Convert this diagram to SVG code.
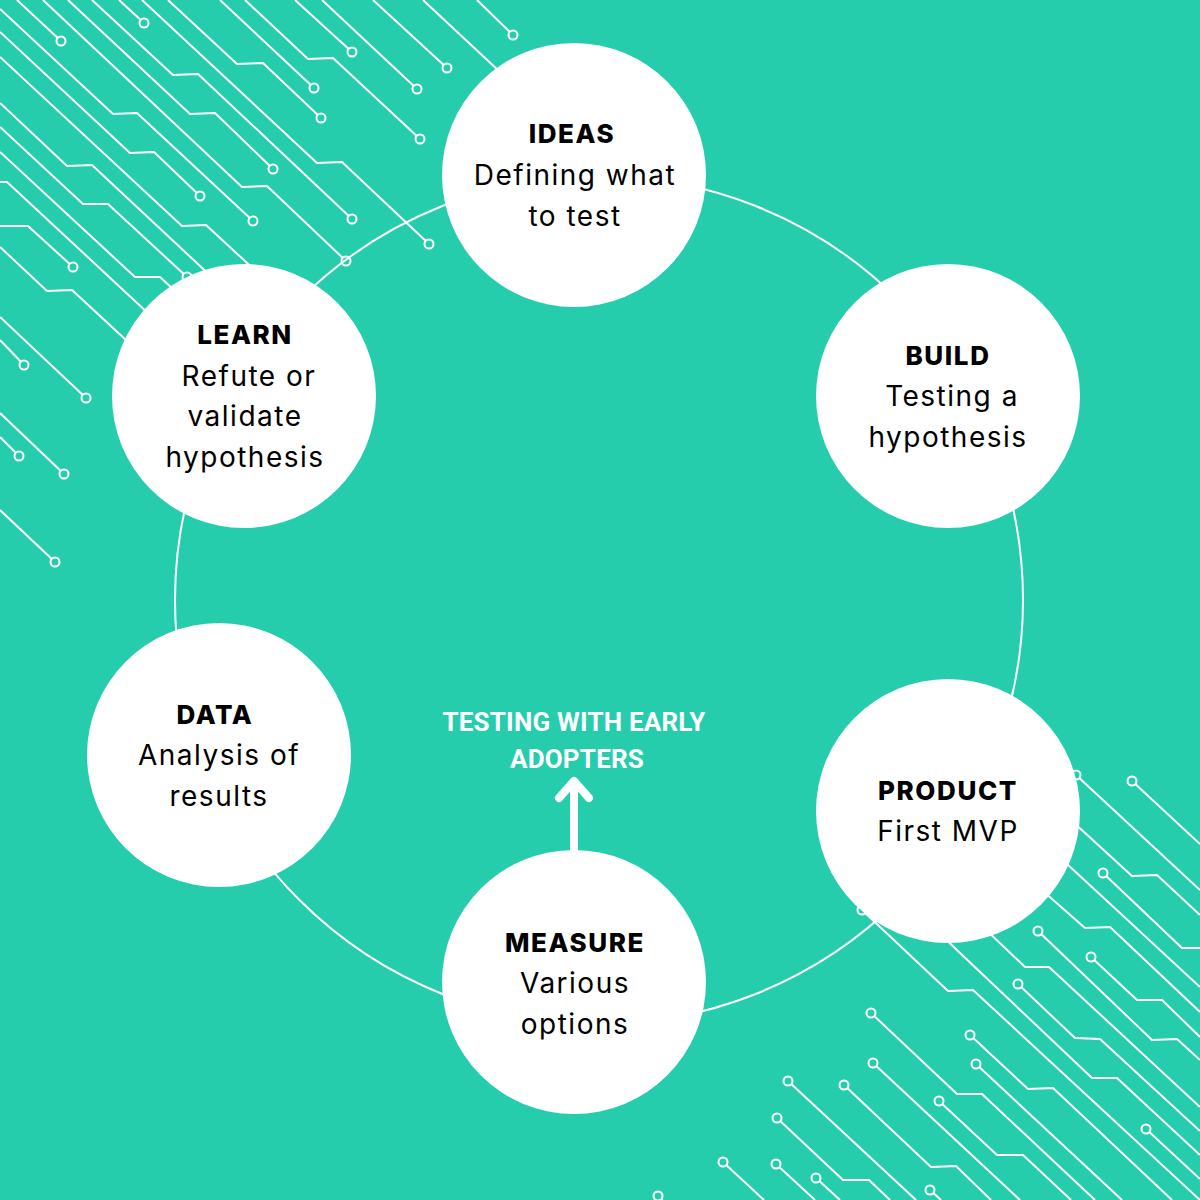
<svg xmlns="http://www.w3.org/2000/svg" width="1200" height="1200" viewBox="0 0 1200 1200">
  <style>
    .trace { fill: none; stroke: #ffffff; stroke-width: 2; stroke-linejoin: miter; }
    .term { fill: #26cdad; stroke: #ffffff; stroke-width: 2; }
    .ring { fill: none; stroke: #ffffff; stroke-width: 2; }
    .node { fill: #ffffff; }
    .title { font-family: Inter, "Liberation Sans", sans-serif; font-weight: 800; font-size: 26px; fill: #000000; text-anchor: middle; letter-spacing: 1.6px; }
    .body { font-family: Inter, "Liberation Sans", sans-serif; font-weight: 400; font-size: 28px; fill: #000000; text-anchor: middle; letter-spacing: 1.5px; }
    .label { font-family: Roboto, "Liberation Sans", sans-serif; font-weight: 700; font-size: 26px; fill: #ffffff; text-anchor: middle; letter-spacing: 0.2px; }
    .arrow { fill: none; stroke: #ffffff; stroke-width: 8; stroke-linecap: round; stroke-linejoin: round; }
  </style>
  <rect x="0" y="0" width="1200" height="1200" fill="#26cdad"/>

  <g id="decoration">
    <!-- top-left circuit traces -->
    <polyline class="trace" points="17,0 61,41"/>
    <polyline class="trace" points="119,0 144,23"/>
    <polyline class="trace" points="0,9 113,114 137,113 253,221"/>
    <polyline class="trace" points="0,32 130,153 154,152 200,196"/>
    <polyline class="trace" points="0,103 67,166 92,165 215,280"/>
    <polyline class="trace" points="0,127 83,204 108,204 187,277"/>
    <polyline class="trace" points="0,152 135,277 160,277 200,314"/>
    <polyline class="trace" points="0,182 7,182 150,315"/>
    <polyline class="trace" points="0,226 28,226 73,267"/>
    <polyline class="trace" points="0,247 47,291 72,290 140,353"/>
    <polyline class="trace" points="0,57 182,226 206,225 260,275"/>
    <polyline class="trace" points="92,0 173,75 198,74 352,219"/>
    <polyline class="trace" points="168,0 237,64 263,63 321,118"/>
    <polyline class="trace" points="245,0 308,59 333,58 420,139"/>
    <polyline class="trace" points="68,0 190,114 215,113 273,169"/>
    <polyline class="trace" points="142,0 317,163 342,162 429,244"/>
    <polyline class="trace" points="43,0 242,187 267,186 346,261"/>
    <polyline class="trace" points="220,0 314,88"/>
    <polyline class="trace" points="295,0 352,52"/>
    <polyline class="trace" points="322,0 417,89"/>
    <polyline class="trace" points="373,0 447,68"/>
    <polyline class="trace" points="423,0 500,72"/>
    <polyline class="trace" points="477,0 513,35"/>
    <polyline class="trace" points="0,317 86,398"/>
    <polyline class="trace" points="0,340 24,365"/>
    <polyline class="trace" points="0,413 64,474"/>
    <polyline class="trace" points="0,437 19,456"/>
    <polyline class="trace" points="0,510 55,562"/>
    <circle class="term" cx="61" cy="41" r="4.5"/>
    <circle class="term" cx="144" cy="23" r="4.5"/>
    <circle class="term" cx="253" cy="221" r="4.5"/>
    <circle class="term" cx="200" cy="196" r="4.5"/>
    <circle class="term" cx="187" cy="277" r="4.5"/>
    <circle class="term" cx="73" cy="267" r="4.5"/>
    <circle class="term" cx="352" cy="219" r="4.5"/>
    <circle class="term" cx="321" cy="118" r="4.5"/>
    <circle class="term" cx="420" cy="139" r="4.5"/>
    <circle class="term" cx="273" cy="169" r="4.5"/>
    <circle class="term" cx="429" cy="244" r="4.5"/>
    <circle class="term" cx="346" cy="261" r="4.5"/>
    <circle class="term" cx="314" cy="88" r="4.5"/>
    <circle class="term" cx="352" cy="52" r="4.5"/>
    <circle class="term" cx="417" cy="89" r="4.5"/>
    <circle class="term" cx="447" cy="68" r="4.5"/>
    <circle class="term" cx="513" cy="35" r="4.5"/>
    <circle class="term" cx="86" cy="398" r="4.5"/>
    <circle class="term" cx="24" cy="365" r="4.5"/>
    <circle class="term" cx="64" cy="474" r="4.5"/>
    <circle class="term" cx="19" cy="456" r="4.5"/>
    <circle class="term" cx="55" cy="562" r="4.5"/>

    <!-- bottom-right circuit traces -->
    <polyline class="trace" points="1076,775 1200,890"/>
    <polyline class="trace" points="1132,781 1200,844"/>
    <polyline class="trace" points="1060,810 1132,876 1157,875 1200,915"/>
    <polyline class="trace" points="1010,862 1085,928 1110,927 1200,1012"/>
    <polyline class="trace" points="1040,839 1200,987"/>
    <polyline class="trace" points="1103,873 1182,948 1200,948"/>
    <polyline class="trace" points="960,905 1025,967 1049,967 1200,1107"/>
    <polyline class="trace" points="1038,931 1152,1040 1177,1039 1200,1060"/>
    <polyline class="trace" points="1091,957 1137,1000 1162,1000 1200,1037"/>
    <polyline class="trace" points="1018,984 1075,1038 1100,1039 1200,1131"/>
    <polyline class="trace" points="862,910 948,991 973,990 1200,1200"/>
    <polyline class="trace" points="900,895 960,953 1092,1078 1117,1078 1200,1155"/>
    <polyline class="trace" points="871,1013 957,1094 982,1094 1095,1200"/>
    <polyline class="trace" points="970,1035 1028,1089 1053,1088 1172,1200"/>
    <polyline class="trace" points="873,1063 1020,1200"/>
    <polyline class="trace" points="976,1064 1122,1200"/>
    <polyline class="trace" points="939,1101 997,1155 1023,1155 1071,1200"/>
    <polyline class="trace" points="844,1085 931,1167 956,1166 991,1200"/>
    <polyline class="trace" points="777,1118 843,1180 869,1180 890,1200"/>
    <polyline class="trace" points="788,1081 916,1200"/>
    <polyline class="trace" points="1146,1129 1200,1179"/>
    <polyline class="trace" points="723,1162 764,1200"/>
    <polyline class="trace" points="776,1164 815,1200"/>
    <polyline class="trace" points="816,1178 840,1200"/>
    <polyline class="trace" points="930,1190 941,1200"/>
    <polyline class="trace" points="658,1196 663,1201"/>
    <circle class="term" cx="1076" cy="775" r="4.5"/>
    <circle class="term" cx="1132" cy="781" r="4.5"/>
    <circle class="term" cx="1103" cy="873" r="4.5"/>
    <circle class="term" cx="1038" cy="931" r="4.5"/>
    <circle class="term" cx="1091" cy="957" r="4.5"/>
    <circle class="term" cx="1018" cy="984" r="4.5"/>
    <circle class="term" cx="862" cy="910" r="4.5"/>
    <circle class="term" cx="871" cy="1013" r="4.5"/>
    <circle class="term" cx="970" cy="1035" r="4.5"/>
    <circle class="term" cx="873" cy="1063" r="4.5"/>
    <circle class="term" cx="976" cy="1064" r="4.5"/>
    <circle class="term" cx="939" cy="1101" r="4.5"/>
    <circle class="term" cx="844" cy="1085" r="4.5"/>
    <circle class="term" cx="777" cy="1118" r="4.5"/>
    <circle class="term" cx="788" cy="1081" r="4.5"/>
    <circle class="term" cx="1146" cy="1129" r="4.5"/>
    <circle class="term" cx="723" cy="1162" r="4.5"/>
    <circle class="term" cx="776" cy="1164" r="4.5"/>
    <circle class="term" cx="816" cy="1178" r="4.5"/>
    <circle class="term" cx="930" cy="1190" r="4.5"/>
    <circle class="term" cx="658" cy="1196" r="4.5"/>
  </g>

  <g id="connectors">
    <circle class="ring" cx="599" cy="600" r="424"/>
    <g id="arrow-early-adopters">
      <line class="arrow" x1="574" y1="852" x2="574" y2="782"/>
      <polyline class="arrow" points="559,798 574,781 589,798"/>
    </g>
  </g>

  <g id="label-early-adopters">
    <text class="label" x="574" y="731">TESTING WITH EARLY</text>
    <text class="label" x="577" y="768">ADOPTERS</text>
  </g>

  <g id="node-ideas">
    <circle class="node" cx="574" cy="175" r="132"/>
    <text class="title" x="572" y="143">IDEAS</text>
    <text class="body" x="575" y="185">Defining what</text>
    <text class="body" x="575" y="226">to test</text>
  </g>

  <g id="node-build">
    <circle class="node" cx="948" cy="396" r="132"/>
    <text class="title" x="948" y="365">BUILD</text>
    <text class="body" x="952" y="406">Testing a</text>
    <text class="body" x="948" y="447">hypothesis</text>
  </g>

  <g id="node-product">
    <circle class="node" cx="948" cy="811" r="132"/>
    <text class="title" x="948" y="800">PRODUCT</text>
    <text class="body" x="948" y="841">First MVP</text>
  </g>

  <g id="node-measure">
    <circle class="node" cx="574" cy="982" r="132"/>
    <text class="title" x="575" y="952">MEASURE</text>
    <text class="body" x="575" y="993">Various</text>
    <text class="body" x="575" y="1034">options</text>
  </g>

  <g id="node-data">
    <circle class="node" cx="219" cy="755" r="132"/>
    <text class="title" x="215" y="724">DATA</text>
    <text class="body" x="219" y="765">Analysis of</text>
    <text class="body" x="219" y="806">results</text>
  </g>

  <g id="node-learn">
    <circle class="node" cx="244" cy="396" r="132"/>
    <text class="title" x="245" y="344">LEARN</text>
    <text class="body" x="249" y="386">Refute or</text>
    <text class="body" x="245" y="426">validate</text>
    <text class="body" x="245" y="467">hypothesis</text>
  </g>
</svg>
